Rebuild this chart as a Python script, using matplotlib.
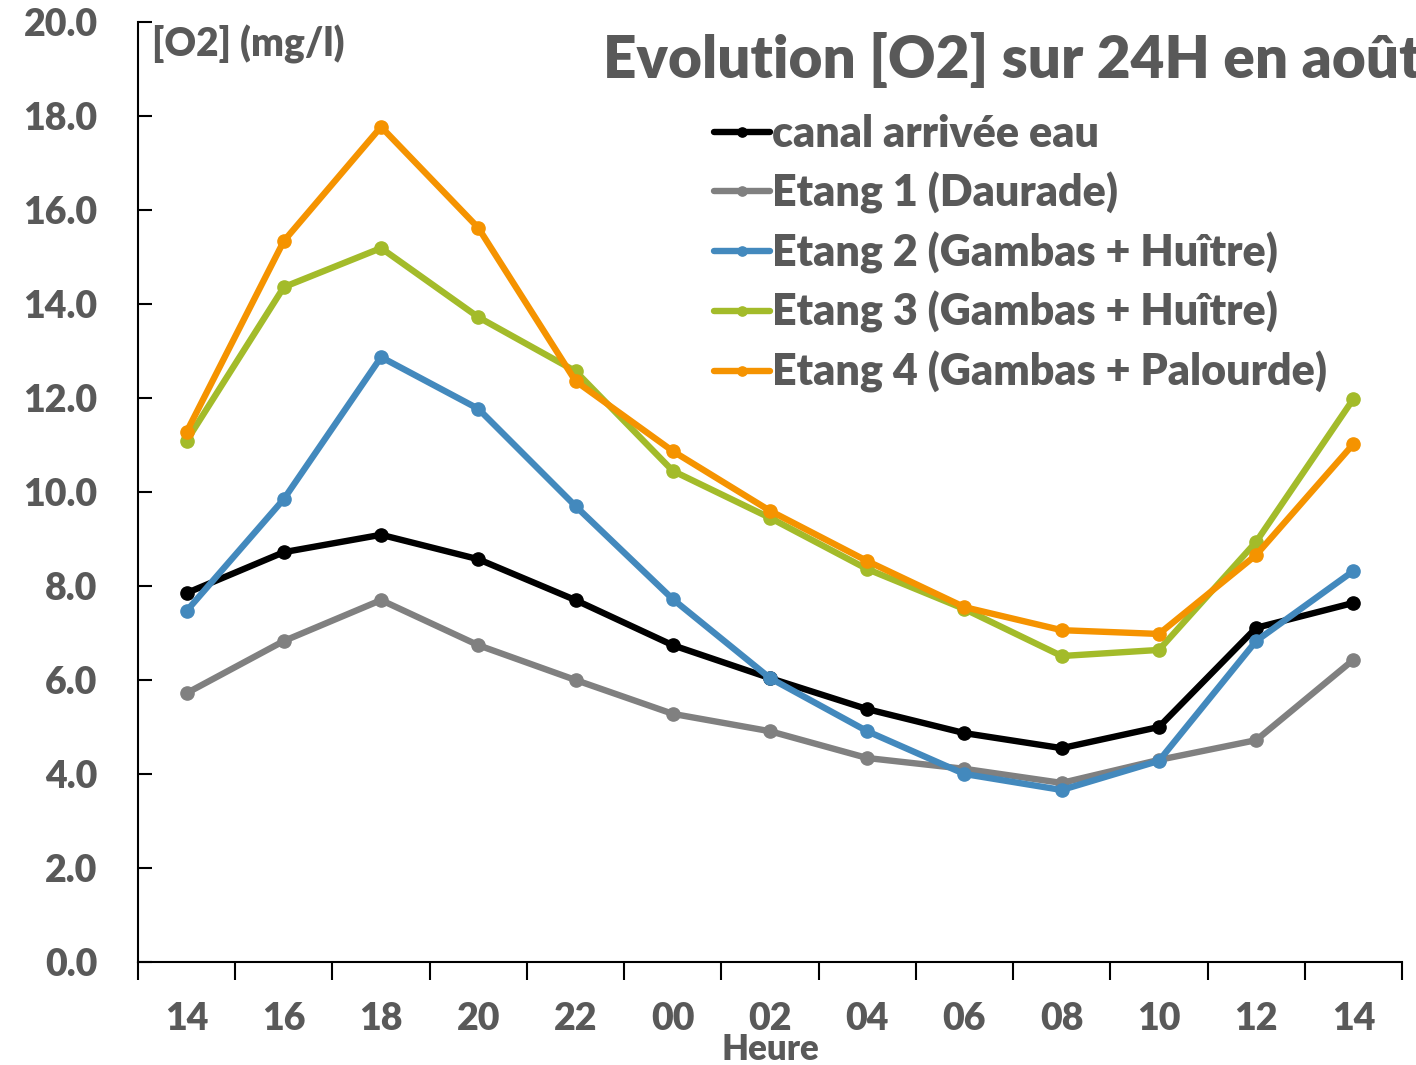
import matplotlib.pyplot as plt

plt.rcParams['font.family'] = ['Lato', 'DejaVu Sans']
plt.rcParams['font.weight'] = 'heavy'

TEXT_GREY = '#595959'

# Hours of measurement (category axis)
heures = ['14', '16', '18', '20', '22', '00', '02', '04', '06', '08', '10', '12', '14']

# Dissolved oxygen, mg/l
canal = [7.85, 8.72, 9.09, 8.57, 7.70, 6.74, 6.04, 5.38, 4.87, 4.55, 5.00, 7.11, 7.64]
etang1 = [5.72, 6.83, 7.70, 6.74, 6.00, 5.28, 4.91, 4.34, 4.11, 3.81, 4.30, 4.72, 6.43]
etang2 = [7.47, 9.85, 12.87, 11.77, 9.70, 7.72, 6.04, 4.91, 4.00, 3.66, 4.28, 6.83, 8.32]
etang3 = [11.09, 14.36, 15.19, 13.72, 12.57, 10.45, 9.45, 8.36, 7.51, 6.51, 6.64, 8.94, 11.98]
etang4 = [11.28, 15.34, 17.77, 15.62, 12.36, 10.87, 9.60, 8.53, 7.55, 7.06, 6.98, 8.66, 11.02]

series = [
    ('canal arrivée eau', canal, '#000000'),
    ('Etang 1 (Daurade)', etang1, '#808080'),
    ('Etang 2 (Gambas + Huître)', etang2, '#4389bd'),
    ('Etang 3 (Gambas + Huître)', etang3, '#a3bb2a'),
    ('Etang 4 (Gambas + Palourde)', etang4, '#f59300'),
]

fig = plt.figure(figsize=(14.16, 10.65), dpi=100)
ax = fig.add_axes([138 / 1416, 1 - 962 / 1065, (1402 - 138) / 1416, (962 - 22) / 1065])

x = list(range(len(heures)))
for label, values, color in series:
    ax.plot(x, values, color=color, lw=4.6, marker='o', ms=9.5, label=label,
            solid_joinstyle='round', solid_capstyle='round')

ax.set_xlim(-0.5, len(heures) - 0.5)
ax.set_ylim(0, 20)

ax.set_yticks([i * 2 for i in range(11)])
ax.set_yticklabels([f'{i * 2:.1f}' for i in range(11)])
ax.set_xticks(x)
ax.set_xticklabels(heures)
ax.set_xticks([i - 0.5 for i in range(len(heures) + 1)], minor=True)

ax.tick_params(axis='y', direction='in', length=10, width=1.5, pad=29,
               labelsize=27, labelcolor=TEXT_GREY)
ax.tick_params(axis='x', which='major', length=0, pad=29,
               labelsize=27, labelcolor=TEXT_GREY)
ax.tick_params(axis='x', which='minor', direction='out', length=13, width=1.5)

for side in ['top', 'right']:
    ax.spines[side].set_visible(False)
for side in ['left', 'bottom']:
    ax.spines[side].set_linewidth(1.5)

# axis titles placed as free text, tight under the hour labels
fig.text(770 / 1416, 1 - 1050 / 1065, 'Heure', fontsize=25, color=TEXT_GREY,
         va='center', ha='center')
fig.text(152 / 1416, 1 - 44 / 1065, '[O2] (mg/l)', fontsize=28, color=TEXT_GREY,
         va='center', ha='left')
fig.text(603 / 1416, 1 - 60 / 1065, 'Evolution [O2] sur 24H en août', fontsize=42,
         color=TEXT_GREY, va='center', ha='left')

leg = ax.legend(loc='upper left', bbox_to_anchor=(714 / 1416, 1 - 114 / 1065),
                bbox_transform=fig.transFigure, frameon=False, fontsize=31,
                handlelength=1.3, handletextpad=0.05, labelspacing=0.41,
                markerscale=0.7, borderaxespad=0, borderpad=0)
for t in leg.get_texts():
    t.set_color(TEXT_GREY)

fig.savefig('out.png', dpi=100)
